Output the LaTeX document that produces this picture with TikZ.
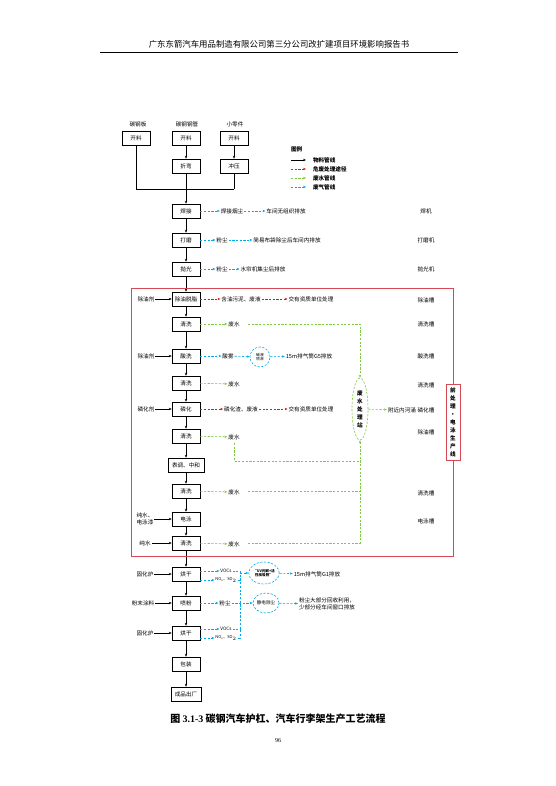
\documentclass[tikz,border=0pt]{standalone}
\usepackage{fontspec}
\setmainfont{Noto Sans CJK SC}
\newfontfamily\tms{Liberation Serif}
\usetikzlibrary{arrows.meta,shapes.geometric}
\definecolor{redfr}{RGB}{214,72,84}
\definecolor{redc}{RGB}{230,20,20}
\definecolor{cyanc}{RGB}{0,170,235}
\definecolor{greenc}{RGB}{130,200,70}
\tikzset{
  box/.style={draw, line width=0.5pt, minimum width=28pt, minimum height=14pt, inner sep=1pt, font=\fontsize{5.6}{6}\selectfont},
  lbl/.style={inner sep=0.8pt, font=\fontsize{5.6}{6.6}\selectfont},
  tip/.style={-{Stealth[length=3pt,width=2.4pt]}},
  flow/.style={tip, line width=0.45pt},
  dsh/.style={dash pattern=on 2.2pt off 1.5pt, line width=0.6pt},
  cyl/.style={dsh, draw=cyanc},
  cya/.style={cyl, tip},
  grl/.style={dsh, draw=greenc},
  gra/.style={grl, tip},
  rda/.style={dsh, draw=redc, tip},
}
\begin{document}
\begin{tikzpicture}[x=1pt,y=-1pt]
\fill[white] (0,0) rectangle (556,786);
\useasboundingbox (0,0) rectangle (556,786);
% header
\node[font=\fontsize{8.4}{9}\selectfont, inner sep=0] (hdr) at (279,44) {广东东箭汽车用品制造有限公司第三分公司改扩建项目环境影响报告书};
\draw[line width=0.6pt] (100,52) -- (458,52);
% top
\node[lbl] (t1) at (138,124) {碳钢板};
\node[lbl] (t2) at (187,124) {碳钢钢管};
\node[lbl] (t3) at (235,124) {小零件};
\node[box] (kl1) at (136,138) {开料};
\node[box] (kl2) at (186,138) {开料};
\node[box] (kl3) at (234,138) {开料};
\node[box] (zw) at (186,166) {折弯};
\node[box] (cy) at (234,166) {冲压};
\coordinate (m2) at (186,189);
\coordinate (m3) at (234,189);
\draw[line width=0.45pt] (kl1.south) |- (m3);
\draw[line width=0.45pt] (zw.south) -- (m2);
\draw[line width=0.45pt] (cy.south) -- (m3);
\draw[flow] (kl2) -- (zw);
\draw[flow] (kl3) -- (cy);
% main column
\node[box] (hj) at (186,211) {焊接};
\node[box] (dm) at (186,240) {打磨};
\node[box] (pg) at (186,269) {抛光};
\node[box] (cy1) at (186,299) {除油脱脂};
\node[box] (qx1) at (186,324) {清洗};
\node[box] (sx) at (186,356) {酸洗};
\node[box] (qx2) at (186,383) {清洗};
\node[box] (lh) at (186,409) {磷化};
\node[box] (qx3) at (186,436) {清洗};
\node[box, minimum width=36pt] (tz) at (186,465) {表调、中和};
\node[box] (qx4) at (186,491) {清洗};
\node[box] (dy) at (186,519) {电泳};
\node[box] (qx5) at (186,543) {清洗};
\node[box] (hg1) at (186,574) {烘干};
\node[box] (pf) at (186,603) {喷粉};
\node[box] (hg2) at (186,633) {烘干};
\node[box] (bz) at (186,664) {包装};
\node[box, minimum width=30pt] (cp) at (186,694) {成品出厂};
\draw[flow] (m2) -- (hj);
\foreach \a/\b in {hj/dm,dm/pg,pg/cy1,cy1/qx1,qx1/sx,sx/qx2,qx2/lh,lh/qx3,qx3/tz,tz/qx4,qx4/dy,dy/qx5,qx5/hg1,hg1/pf,pf/hg2,hg2/bz,bz/cp}
  \draw[flow] (\a) -- (\b);
% red frame
\draw[draw=redfr, line width=0.7pt] (131,288) rectangle (453,556);
\node[draw=redfr, line width=0.7pt, fill=white, align=center, minimum width=14pt, minimum height=76pt, inner sep=1pt, font=\fontsize{5.6}{8}\selectfont\bfseries] (pl) at (453,422) {前\\处\\理\\·\\电\\泳\\生\\产\\线};
% legend
\node[lbl, anchor=west, font=\fontsize{5.6}{6.6}\selectfont\bfseries] (lg) at (290,149) {图例};
\coordinate (la1) at (291,160); \coordinate (lb1) at (306,160);
\coordinate (la2) at (291,169); \coordinate (lb2) at (306,169);
\coordinate (la3) at (291,178); \coordinate (lb3) at (306,178);
\coordinate (la4) at (291,187); \coordinate (lb4) at (306,187);
\draw[flow] (la1) -- (lb1);
\draw[rda] (la2) -- (lb2);
\draw[gra] (la3) -- (lb3);
\draw[cya] (la4) -- (lb4);
\node[lbl, anchor=west, font=\fontsize{5.6}{6.6}\selectfont\bfseries] (lt1) at (312,160) {物料管线};
\node[lbl, anchor=west, font=\fontsize{5.6}{6.6}\selectfont\bfseries] (lt2) at (312,169) {危废处理途径};
\node[lbl, anchor=west, font=\fontsize{5.6}{6.6}\selectfont\bfseries] (lt3) at (312,178) {废水管线};
\node[lbl, anchor=west, font=\fontsize{5.6}{6.6}\selectfont\bfseries] (lt4) at (312,187) {废气管线};
% right labels
\node[lbl] (r1) at (426,211) {焊机};
\node[lbl] (r2) at (426,240) {打磨机};
\node[lbl] (r3) at (426,269) {抛光机};
\node[lbl] (r4) at (426,300) {除油槽};
\node[lbl] (r5) at (426,324) {清洗槽};
\node[lbl] (r6) at (426,356) {酸洗槽};
\node[lbl] (r7) at (426,385) {清洗槽};
\node[lbl] (r8) at (426,410) {磷化槽};
\node[lbl] (r9) at (426,432) {除油槽};
\node[lbl] (r10) at (426,493) {清洗槽};
\node[lbl] (r11) at (426,521) {电泳槽};
% left inputs
\node[lbl] (in1) at (146,299) {除油剂};
\node[lbl] (in2) at (146,356) {除油剂};
\node[lbl] (in3) at (146,409) {磷化剂};
\node[lbl, align=left] (in4) at (145,519) {纯水、\\电泳漆};
\node[lbl] (in5) at (145,543) {纯水};
\node[lbl] (in6) at (145,574) {固化炉};
\node[lbl] (in7) at (143,603) {粉末涂料};
\node[lbl] (in8) at (145,633) {固化炉};
\draw[flow] (in1) -- (cy1);
\draw[flow] (in2) -- (sx);
\draw[flow] (in3) -- (lh);
\draw[flow] (in4.east) -- (dy.west);
\draw[flow] (in5) -- (qx5);
\draw[flow] (in6) -- (hg1);
\draw[flow] (in7) -- (pf);
\draw[flow] (in8) -- (hg2);
% cyan top
\node[lbl] (hjyc) at (232,211) {焊接烟尘};
\node[lbl] (hjpf) at (286,211) {车间无组织排放};
\node[lbl] (fc1) at (222,240) {粉尘};
\node[lbl] (dmpf) at (287,240) {简易布袋除尘后车间内排放};
\node[lbl] (fc2) at (222,269) {粉尘};
\node[lbl] (pgpf) at (263,269) {水帘机集尘后排放};
\draw[cya] (hj) -- (hjyc);
\draw[cya] (hjyc) -- (hjpf);
\draw[cya] (dm) -- (fc1);
\draw[cya] (fc1) -- (dmpf);
\draw[cya] (pg) -- (fc2);
\draw[cya] (fc2) -- (pgpf);
% acid mist
\node[lbl] (sw) at (228,356) {酸雾};
\node[circle, cyl, minimum size=20pt, inner sep=0, align=center, font=\fontsize{3.8}{4.8}\selectfont] (jl) at (260,357) {碱液\\喷淋};
\node[lbl] (g5) at (309,356) {15m排气筒G5排放};
\draw[cya] (sx) -- (sw);
\draw[cya] (sw) -- (jl);
\draw[cya] (jl) -- (g5);
% red hazardous
\node[lbl] (hy1) at (241,299) {含油污泥、废液};
\node[lbl] (jy1) at (311,299) {交有资质单位处理};
\draw[rda] (cy1) -- (hy1);
\draw[rda] (hy1) -- (jy1);
\node[lbl] (hy2) at (241,409) {磷化渣、废液};
\node[lbl] (jy2) at (311,409) {交有资质单位处理};
\draw[rda] (lh) -- (hy2);
\draw[rda] (hy2) -- (jy2);
% waste water
\node[ellipse, grl, minimum width=16pt, minimum height=62pt, inner sep=0.5pt, align=center, font=\fontsize{5.6}{8}\selectfont\bfseries] (fs) at (360,409) {废\\水\\处\\理\\站};
\node[lbl] (hc) at (402,410) {附近内河涌};
\draw[gra] (fs) -- (hc);
\node[lbl] (fw1) at (234,324) {废水};
\node[lbl] (fw2) at (234,384) {废水};
\node[lbl] (fw3) at (234,437) {废水};
\node[lbl] (fw4) at (234,492) {废水};
\node[lbl] (fw5) at (234,544) {废水};
\draw[gra] (qx1) -- (fw1);
\draw[gra] (qx2) -- (fw2);
\draw[gra] (qx3) -- (fw3);
\draw[gra] (qx4) -- (fw4);
\draw[gra] (qx5) -- (fw5);
\coordinate (g1) at (248,324);
\draw[gra] (g1) -| (fs.north);
\coordinate (g3a) at (234,443);
\coordinate (g3b) at (360,461);
\draw[grl] (g3a) |- (g3b);
\coordinate (g4a) at (248,491);
\coordinate (g4b) at (360,491);
\draw[grl] (g4a) -- (g4b);
\coordinate (g5a) at (248,543);
\coordinate (g5b) at (360,543);
\draw[gra] (g5a) -- (g5b) -- (fs.south);
% bottom exhaust
\node[lbl, font=\fontsize{4.6}{5}\selectfont] (voc1) at (226,571) {VOCs};
\node[lbl, font=\fontsize{4}{5}\selectfont] (nox1) at (226,580) {NO$_\mathrm{x}$、SO$_2$};
\node[lbl] (fc3) at (225,603) {粉尘};
\node[lbl, font=\fontsize{4.6}{5}\selectfont] (voc2) at (226,629) {VOCs};
\node[lbl, font=\fontsize{4}{5}\selectfont] (nox2) at (226,638) {NO$_\mathrm{x}$、SO$_2$};
\coordinate (v1) at (240,571);
\coordinate (v2) at (240,580);
\coordinate (v3) at (240,629);
\coordinate (v4) at (240,638);
\coordinate (ve) at (240,573);
\draw[cya] (hg1.east |- voc1) -- (voc1);
\draw[cya] (hg1.east |- nox1) -- (nox1);
\draw[cya] (hg2.east |- voc2) -- (voc2);
\draw[cya] (hg2.east |- nox2) -- (nox2);
\draw[cya] (pf) -- (fc3);
\draw[cyl] (voc1) -- (v1);
\draw[cyl] (nox1) -- (v2);
\draw[cyl] (voc2) -- (v3);
\draw[cyl] (nox2) -- (v4);
\draw[cyl] (v1) -- (v4);
\node[ellipse, cyl, minimum width=30pt, minimum height=22pt, inner sep=0, align=center, font=\fontsize{3.6}{4.4}\selectfont\bfseries] (uv) at (264,573) {“UV光解+活\\性炭吸附”};
\node[ellipse, cyl, minimum width=26pt, minimum height=20pt, inner sep=0, font=\fontsize{4.6}{5}\selectfont] (jd) at (266,603) {静电除尘};
\draw[cya] (ve) -- (uv);
\draw[cya] (fc3) -- (jd);
\node[lbl] (g1t) at (317,574) {15m排气筒G1排放};
\node[lbl, align=left, anchor=west] (fct) at (298,604) {粉尘大部分回收利用，\\少部分经车间窗口排放};
\draw[cya] (uv) -- (g1t);
\draw[cya] (jd) -- (fct);
% caption
\node[font=\fontsize{10}{11}\selectfont\bfseries, inner sep=0] (cap) at (278,719) {图 {\tms\bfseries 3.1-3} 碳钢汽车护杠、汽车行李架生产工艺流程};
\node[font=\fontsize{6}{7}\selectfont\tms, inner sep=0] (pn) at (278,741) {96};
\end{tikzpicture}
\end{document}
